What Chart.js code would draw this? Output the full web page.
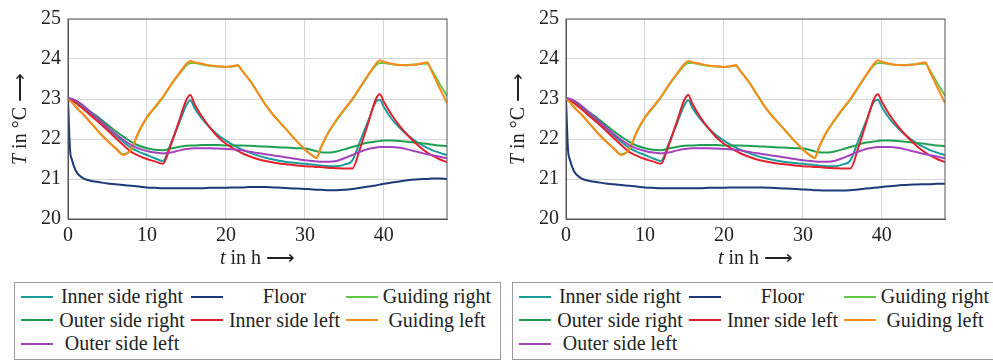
<!DOCTYPE html>
<html>
<head>
<meta charset="utf-8">
<script src="https://cdn.jsdelivr.net/npm/chart.js@4.4.1/dist/chart.umd.min.js"></script>
<style>
body { margin: 0; background: #fff; width: 993px; height: 362px; overflow: hidden; position: relative; font-family: "Liberation Serif", serif; color: #222; }
canvas { position: absolute; top: 0; }
.legend { position: absolute; top: 282px; width: 487px; height: 78px; box-sizing: border-box; border: 1px solid #9a9a9a; padding: 2px 0 0 6px;
  display: grid; grid-template-columns: 32px 138px 32px 123px 32px 118px; grid-auto-rows: 23.5px; font-size: 20px; line-height: 23px; }
.legend .swatch { align-self: center; height: 2px; }
.legend .name { text-align: center; white-space: nowrap; }
</style>
</head>
<body>
<canvas id="left" width="497" height="272" style="left:0"></canvas>
<canvas id="right" width="497" height="272" style="left:498px"></canvas>
<div class="legend" id="legendLeft" style="left:14px"></div>
<div class="legend" id="legendRight" style="left:512px"></div>
<script>
const hours = [0, 0.25, 0.5, 1, 1.5, 2, 3, 4, 5, 6, 7, 8, 9, 10, 11, 12, 13, 14, 15, 15.5,
  16, 17, 18, 19, 20, 21, 21.5, 22, 23, 24, 25, 26, 27, 28, 29, 30, 31, 31.5,
  32, 33, 34, 35, 36, 37, 38, 39, 39.5, 40, 41, 42, 43, 44, 45, 45.5, 46, 47, 48];

const innerRight = [23.0, 22.99, 22.97, 22.91, 22.84, 22.77, 22.61, 22.45, 22.28, 22.1, 21.93, 21.78, 21.68, 21.6, 21.52, 21.45, 21.88, 22.36, 22.85, 22.97,
  22.78, 22.5, 22.28, 22.1, 21.96, 21.84, 21.79, 21.74, 21.66, 21.59, 21.53, 21.49, 21.45, 21.42, 21.4, 21.38, 21.36, 21.35,
  21.34, 21.32, 21.32, 21.36, 21.46, 21.95, 22.44, 22.93, 22.98, 22.8, 22.5, 22.28, 22.1, 21.95, 21.83, 21.78, 21.73, 21.66, 21.6];

const floorLeft = [23.0, 21.75, 21.48, 21.2, 21.08, 21.01, 20.95, 20.92, 20.89, 20.87, 20.85, 20.83, 20.81, 20.79, 20.78, 20.77, 20.77, 20.77, 20.77, 20.77,
  20.77, 20.77, 20.78, 20.78, 20.78, 20.79, 20.79, 20.79, 20.8, 20.8, 20.8, 20.79, 20.78, 20.77, 20.76, 20.75, 20.74, 20.73,
  20.73, 20.72, 20.72, 20.73, 20.75, 20.78, 20.81, 20.84, 20.86, 20.88, 20.91, 20.94, 20.97, 20.99, 21.0, 21.0, 21.01, 21.01, 21.0];

const floorRight = [23.0, 21.75, 21.48, 21.2, 21.08, 21.01, 20.95, 20.92, 20.89, 20.87, 20.85, 20.83, 20.81, 20.79, 20.78, 20.77, 20.77, 20.77, 20.77, 20.77,
  20.77, 20.77, 20.78, 20.78, 20.78, 20.79, 20.79, 20.79, 20.79, 20.79, 20.79, 20.78, 20.77, 20.76, 20.75, 20.74, 20.73, 20.72,
  20.72, 20.71, 20.71, 20.71, 20.72, 20.74, 20.76, 20.78, 20.79, 20.8, 20.82, 20.84, 20.85, 20.86, 20.87, 20.87, 20.87, 20.88, 20.88];

const guidingRight = [23.0, 22.96, 22.92, 22.8, 22.7, 22.6, 22.38, 22.16, 21.96, 21.78, 21.62, 21.74, 22.18, 22.53, 22.78, 23.03, 23.33, 23.6, 23.84, 23.9,
  23.9, 23.86, 23.83, 23.81, 23.8, 23.82, 23.83, 23.72, 23.47, 23.17, 22.86, 22.6, 22.38, 22.16, 21.94, 21.74, 21.58, 21.53,
  21.76, 22.16, 22.46, 22.73, 22.98, 23.28, 23.58, 23.84, 23.9, 23.9, 23.87, 23.85, 23.85, 23.86, 23.88, 23.88, 23.75, 23.4, 23.08];

const outerRight = [23.0, 23.0, 22.99, 22.95, 22.89, 22.82, 22.66, 22.52, 22.36, 22.2, 22.06, 21.93, 21.83, 21.77, 21.73, 21.72, 21.76, 21.8, 21.83, 21.84,
  21.84, 21.85, 21.85, 21.85, 21.84, 21.84, 21.84, 21.84, 21.83, 21.82, 21.81, 21.8, 21.79, 21.78, 21.77, 21.76, 21.72, 21.69,
  21.67, 21.66, 21.69, 21.74, 21.8, 21.86, 21.91, 21.94, 21.95, 21.96, 21.96, 21.95, 21.93, 21.91, 21.89, 21.88, 21.86, 21.84, 21.82];

const innerLeft = [23.0, 22.99, 22.97, 22.9, 22.82, 22.74, 22.57, 22.4, 22.22, 22.03, 21.85, 21.68, 21.58, 21.5, 21.44, 21.38, 21.84, 22.41, 22.98, 23.1,
  22.88, 22.55, 22.28, 22.05, 21.88, 21.76, 21.7, 21.65, 21.57, 21.5, 21.45, 21.41, 21.38, 21.36, 21.34, 21.32, 21.31, 21.3,
  21.3, 21.28, 21.27, 21.26, 21.26, 21.77, 22.39, 23.0, 23.12, 22.93, 22.6, 22.33, 22.1, 21.9, 21.73, 21.66, 21.6, 21.5, 21.42];

const guidingLeft = [23.0, 22.96, 22.92, 22.8, 22.7, 22.6, 22.38, 22.15, 21.95, 21.77, 21.6, 21.75, 22.2, 22.55, 22.8, 23.05, 23.35, 23.62, 23.88, 23.95,
  23.92, 23.88, 23.84, 23.82, 23.8, 23.83, 23.85, 23.72, 23.47, 23.17, 22.86, 22.6, 22.38, 22.16, 21.94, 21.74, 21.58, 21.52,
  21.78, 22.18, 22.48, 22.75, 23.0, 23.3, 23.6, 23.88, 23.97, 23.93, 23.88, 23.85, 23.84, 23.86, 23.9, 23.92, 23.72, 23.3, 22.9];

const outerLeft = [23.02, 23.02, 23.0, 22.96, 22.9, 22.82, 22.65, 22.48, 22.3, 22.13, 21.98, 21.85, 21.76, 21.7, 21.66, 21.64, 21.66, 21.71, 21.75, 21.76,
  21.77, 21.77, 21.77, 21.76, 21.75, 21.74, 21.73, 21.72, 21.68, 21.65, 21.62, 21.59, 21.56, 21.53, 21.5, 21.47, 21.45, 21.44,
  21.43, 21.43, 21.45, 21.52, 21.6, 21.68, 21.75, 21.79, 21.8, 21.8, 21.8, 21.78, 21.74, 21.69, 21.64, 21.62, 21.6, 21.56, 21.52];

const xTicks = [0, 10, 20, 30, 40];
const yTicks = [20, 21, 22, 23, 24, 25];

const names = ['Inner side right', 'Floor', 'Guiding right', 'Outer side right', 'Inner side left', 'Guiding left', 'Outer side left'];
const colors = ['#1a9c9c', '#1c3a78', '#62c846', '#1ea052', '#e3202b', '#ff8a1c', '#a442bc'];

const serif = '"Liberation Serif", serif';

// frame round the plot area and the two axis titles with an italic symbol
const frame = {
  id: 'frame',
  afterDraw(chart) {
    const ctx = chart.ctx, a = chart.chartArea;
    ctx.save();
    ctx.strokeStyle = '#555';
    ctx.lineWidth = 1;
    ctx.strokeRect(a.left, a.top, a.right - a.left, a.bottom - a.top);
    ctx.fillStyle = '#222';
    ctx.textBaseline = 'middle';
    function label(sym, rest, x, y, rot) {
      ctx.save();
      ctx.translate(x, y);
      ctx.rotate(rot);
      ctx.font = 'italic 20px ' + serif;
      const w1 = ctx.measureText(sym).width;
      ctx.font = '20px ' + serif;
      const w2 = ctx.measureText(rest).width;
      let cx = -(w1 + w2) / 2;
      ctx.font = 'italic 20px ' + serif;
      ctx.textAlign = 'left';
      ctx.fillText(sym, cx, 0);
      ctx.font = '20px ' + serif;
      ctx.fillText(rest, cx + w1, 0);
      ctx.restore();
    }
    label('t', ' in h \u27F6', (a.left + a.right) / 2, 259, 0);
    label('T', ' in \u00B0C \u27F6', 21, (a.top + a.bottom) / 2, -Math.PI / 2);
    ctx.restore();
  }
};

function makeChart(id, floor) {
  const temps = [innerRight, floor, guidingRight, outerRight, innerLeft, guidingLeft, outerLeft];
  const datasets = names.map((name, i) => ({
    label: name,
    data: hours.map((h, j) => ({ x: h, y: temps[i][j] })),
    borderColor: colors[i],
    borderWidth: 2,
    pointRadius: 0,
    cubicInterpolationMode: 'monotone'
  })).reverse();

  new Chart(document.getElementById(id), {
    type: 'line',
    data: { datasets: datasets },
    options: {
      responsive: false,
      animation: false,
      layout: { padding: { top: 12, right: 50 } },
      plugins: { legend: { display: false }, tooltip: { enabled: false } },
      scales: {
        x: {
          type: 'linear', min: 0, max: 48,
          afterBuildTicks: s => { s.ticks = xTicks.map(v => ({ value: v })); },
          afterFit: s => { s.height = 53; },
          grid: { color: '#d6d6d6', drawTicks: false },
          border: { color: '#555' },
          ticks: { padding: 5, color: '#222', font: { family: serif, size: 20 } }
        },
        y: {
          min: 20, max: 25,
          afterBuildTicks: s => { s.ticks = yTicks.map(v => ({ value: v })); },
          afterFit: s => { s.width = 68; },
          grid: { color: '#d6d6d6', drawTicks: false },
          border: { color: '#555' },
          ticks: { padding: 7, color: '#222', font: { family: serif, size: 20 } }
        }
      }
    },
    plugins: [frame]
  });
}

function makeLegend(id) {
  const box = document.getElementById(id);
  names.forEach((name, i) => {
    const sw = document.createElement('div');
    sw.className = 'swatch';
    sw.style.background = colors[i];
    const tx = document.createElement('div');
    tx.className = 'name';
    tx.textContent = name;
    box.appendChild(sw);
    box.appendChild(tx);
  });
}

makeChart('left', floorLeft);
makeChart('right', floorRight);
makeLegend('legendLeft');
makeLegend('legendRight');
</script>
</body>
</html>
